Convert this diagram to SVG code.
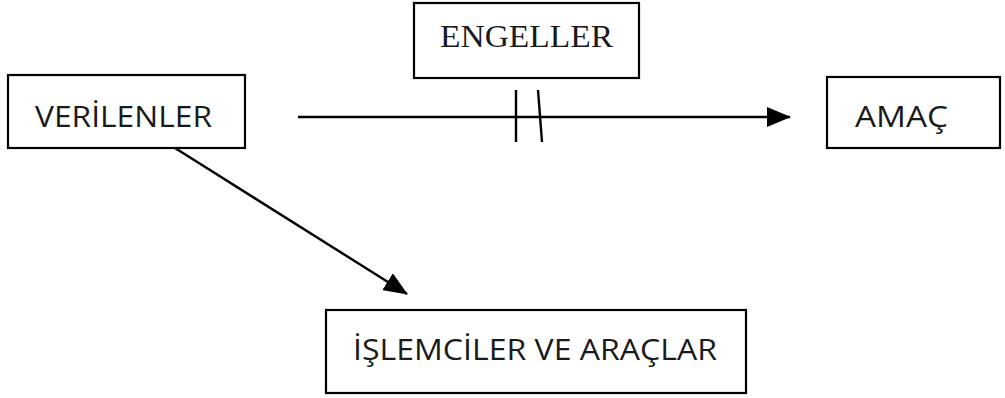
<svg xmlns="http://www.w3.org/2000/svg" width="1005" height="398" viewBox="0 0 1005 398">
<style>
.box{fill:#fff;stroke:#000;stroke-width:2.2}
.lbl{font-family:"Open Sans","Liberation Sans",sans-serif;font-size:30px;fill:#1a1a1a}
.ser{font-family:"Liberation Serif","DejaVu Serif",serif;font-size:31px;fill:#1a1a1a}
.ln{stroke:#000;stroke-width:2.4;fill:none}
</style>
<defs>
<marker id="ah" markerWidth="24" markerHeight="20" refX="23" refY="10" orient="auto" markerUnits="userSpaceOnUse">
<path d="M0,0 L24,10 L0,20 Z" fill="#000"/>
</marker>
</defs>
<g id="verilenler"><rect class="box" x="8" y="75" width="237" height="73"/><text class="lbl" x="35" y="127" textLength="177" lengthAdjust="spacingAndGlyphs">VERİLENLER</text></g>
<g id="engeller"><rect class="box" x="414" y="3" width="225" height="75"/><text class="ser" x="440" y="47" textLength="173" lengthAdjust="spacingAndGlyphs">ENGELLER</text></g>
<g id="amac"><rect class="box" x="827" y="77" width="173" height="71"/><text class="lbl" x="855" y="127" textLength="93" lengthAdjust="spacingAndGlyphs">AMAÇ</text></g>
<g id="islemciler"><rect class="box" x="326" y="310" width="420" height="83"/><text class="lbl" x="353" y="360" textLength="364" lengthAdjust="spacingAndGlyphs">İŞLEMCİLER VE ARAÇLAR</text></g>
<g id="connectors">
<line class="ln" x1="298" y1="117" x2="790" y2="117" marker-end="url(#ah)"/>
<line class="ln" x1="516" y1="90" x2="516" y2="142"/>
<line class="ln" x1="538" y1="90" x2="542" y2="142"/>
<line class="ln" x1="175" y1="148" x2="407" y2="294" marker-end="url(#ah)"/>
</g>
</svg>
